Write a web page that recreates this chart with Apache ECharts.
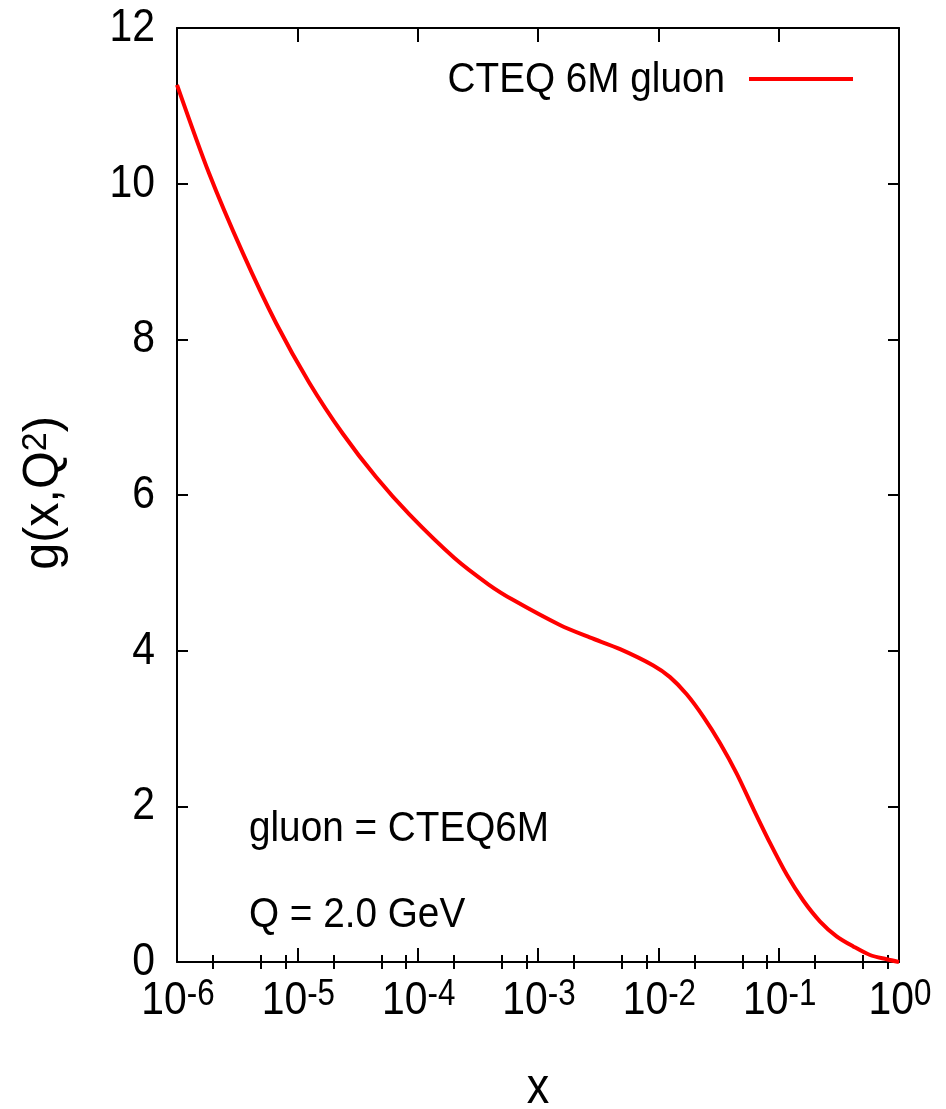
<!DOCTYPE html>
<html>
<head>
<meta charset="utf-8">
<script src="https://cdn.jsdelivr.net/npm/echarts@6/dist/echarts.min.js"></script>
<style>
  html, body { margin: 0; padding: 0; background: #fff; }
  #chart { width: 946px; height: 1109px; }
</style>
</head>
<body>
<div id="chart"></div>
<script>
// Gluon distribution g(x, Q^2) at Q = 2.0 GeV (CTEQ6M)
const xValues = [1e-6, 1.85e-6, 3.52e-6, 6.65e-6, 1.26e-5, 2.38e-5, 4.51e-5, 8.53e-5,
                 2.02e-4, 3.89e-4, 6.24e-4, 1.52e-3, 2.69e-3, 4.81e-3, 9.08e-3,
                 1.25e-2, 1.72e-2, 2.37e-2, 3.26e-2, 4.48e-2, 6.15e-2, 8.47e-2,
                 0.117, 0.160, 0.221, 0.303, 0.417, 0.574, 0.789, 1.0];
const gluonValues = [11.27, 10.13, 9.11, 8.21, 7.44, 6.79, 6.23, 5.75,
                     5.19, 4.85, 4.65, 4.33, 4.17, 4.02, 3.81,
                     3.66, 3.44, 3.15, 2.81, 2.42, 1.97, 1.53,
                     1.12, 0.79, 0.52, 0.33, 0.20, 0.09, 0.035, 0.0];
const xMajorTicks = [1e-6, 1e-5, 1e-4, 1e-3, 1e-2, 1e-1, 1];
const xMinorTicks = [2e-6, 5e-6, 8e-6, 2e-5, 5e-5, 8e-5, 2e-4, 5e-4, 8e-4,
                     2e-3, 5e-3, 8e-3, 2e-2, 5e-2, 8e-2, 0.2, 0.5, 0.8];
const yTicks = [0, 2, 4, 6, 8, 10, 12];
const seriesName = 'CTEQ 6M gluon';
const notes = ['gluon = CTEQ6M', 'Q = 2.0 GeV'];

const FONT = "'Liberation Sans', Arial, sans-serif";
const INK = '#000';
const RED = '#ff0000';
// horizontal squeeze that gives the Liberation glyphs a narrow-sans look
const TICK_SQUEEZE = 0.87;
const TEXT_SQUEEZE = 0.9;

const chart = echarts.init(document.getElementById('chart'), null, { renderer: 'canvas' });

const grid = { left: 177, right: 47, top: 28, bottom: 147, containLabel: false };

function xAxisBase(extra) {
  return Object.assign({
    type: 'log', logBase: 10, min: 1e-6, max: 1,
    gridIndex: 0,
    splitLine: { show: false },
    axisLine: { show: true, onZero: false, lineStyle: { color: INK, width: 2 } },
    axisLabel: { show: false },
    axisTick: { show: false }
  }, extra);
}

function tickStyle(len, values) {
  return { show: true, inside: true, length: len, customValues: values,
           lineStyle: { color: INK, width: 2 } };
}

chart.setOption({
  backgroundColor: '#fff',
  animation: false,
  grid: grid,
  xAxis: [
    xAxisBase({ position: 'bottom', axisTick: tickStyle(14, xMajorTicks) }),
    xAxisBase({ position: 'bottom', axisLine: { show: false }, axisTick: tickStyle(7, xMinorTicks) }),
    xAxisBase({ position: 'top', axisTick: tickStyle(14, xMajorTicks) }),
    xAxisBase({ position: 'top', axisLine: { show: false }, axisTick: tickStyle(7, xMinorTicks) })
  ],
  yAxis: [
    {
      type: 'value', min: 0, max: 12, interval: 2, position: 'left',
      splitLine: { show: false },
      axisLine: { show: true, lineStyle: { color: INK, width: 2 } },
      axisTick: tickStyle(11, yTicks),
      axisLabel: { show: false }
    },
    {
      type: 'value', min: 0, max: 12, interval: 2, position: 'right',
      splitLine: { show: false },
      axisLine: { show: true, lineStyle: { color: INK, width: 2 } },
      axisTick: tickStyle(11, yTicks),
      axisLabel: { show: false }
    }
  ],
  series: [{
    name: seriesName,
    type: 'line',
    xAxisIndex: 0, yAxisIndex: 0,
    data: xValues.map((x, i) => [x, gluonValues[i]]),
    showSymbol: false,
    smooth: 0.3,
    clip: false,
    lineStyle: { color: RED, width: 4 },
    itemStyle: { color: RED }
  }]
});

// Tick labels, legend, notes and axis titles, positioned from the axes' own scales
const gridRect = chart.getModel().getComponent('grid', 0).coordinateSystem.getRect();
const graphics = [];

xMajorTicks.forEach(function (v) {
  const px = chart.convertToPixel({ xAxisIndex: 0 }, v);
  const e = Math.round(Math.log10(v));
  graphics.push({
    type: 'text', x: px + 1, y: gridRect.y + gridRect.height + 15, scaleX: TICK_SQUEEZE,
    style: {
      text: '{b|10}{s|' + e + '}',
      align: 'center', verticalAlign: 'top',
      rich: {
        b: { fontFamily: FONT, fontSize: 47, lineHeight: 48, fill: INK,
             verticalAlign: 'bottom', padding: [14, 0, 0, 0] },
        s: { fontFamily: FONT, fontSize: 36, lineHeight: 36, fill: INK, verticalAlign: 'top' }
      }
    }
  });
});

yTicks.forEach(function (v) {
  const py = chart.convertToPixel({ yAxisIndex: 0 }, v);
  graphics.push({
    type: 'text', x: gridRect.x - 22, y: py, scaleX: TICK_SQUEEZE,
    style: { text: String(v), font: '47px ' + FONT, fill: INK, align: 'right', verticalAlign: 'middle' }
  });
});

// legend: label followed by a line sample
graphics.push({
  type: 'line',
  shape: { x1: 749, y1: 79, x2: 853, y2: 79 },
  style: { stroke: RED, lineWidth: 4 }
});
graphics.push({
  type: 'text', x: 725, y: 80, scaleX: TEXT_SQUEEZE,
  style: { text: seriesName, font: '43px ' + FONT, fill: INK, align: 'right', verticalAlign: 'middle' }
});

// annotation block in the lower left
graphics.push({
  type: 'text', x: 249, y: 829, scaleX: TEXT_SQUEEZE,
  style: { text: notes[0], font: '43px ' + FONT, fill: INK, align: 'left', verticalAlign: 'middle' }
});
graphics.push({
  type: 'text', x: 249, y: 915, scaleX: TEXT_SQUEEZE,
  style: { text: notes[1], font: '43px ' + FONT, fill: INK, align: 'left', verticalAlign: 'middle' }
});

// axis titles
graphics.push({
  type: 'text', x: gridRect.x + gridRect.width / 2, y: 1089, scaleX: TEXT_SQUEEZE,
  style: { text: 'x', font: '50px ' + FONT, fill: INK, align: 'center', verticalAlign: 'middle' }
});
graphics.push({
  type: 'text', x: 44, y: gridRect.y + gridRect.height / 2 - 2, rotation: Math.PI / 2, scaleX: 0.97,
  style: {
    text: '{m|g(x,Q}{s|2}{m|)}',
    align: 'center', verticalAlign: 'middle',
    rich: {
      m: { fontFamily: FONT, fontSize: 50, lineHeight: 50, fill: INK, verticalAlign: 'bottom',
           padding: [13, 0, 0, 0] },
      s: { fontFamily: FONT, fontSize: 35, lineHeight: 35, fill: INK, verticalAlign: 'top' }
    }
  }
});

chart.setOption({ graphic: graphics });
</script>
</body>
</html>
